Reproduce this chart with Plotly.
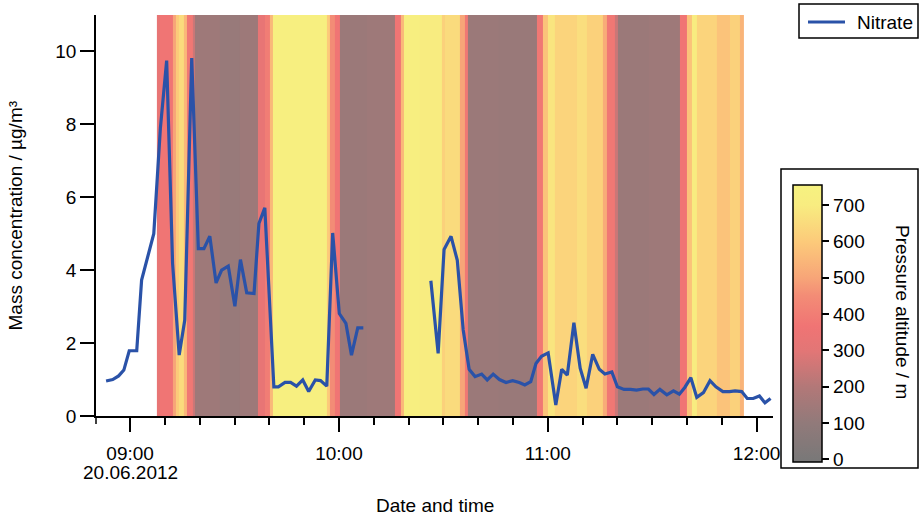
import plotly.graph_objects as go
import pandas as pd

BASE = pd.Timestamp("2012-06-20 09:00:00")

# Nitrate: minutes after 09:00 and mass concentration (µg/m³); None = gap
nitrate_min = [-6.9, -5.0, -3.3, -1.8, -0.25, 1.9, 3.3, 6.8, 8.7, 10.5, 12.2, 14.1, 15.7, 17.7,
               19.6, 21.2, 22.9, 24.7, 26.3, 28.2, 30.1, 31.7, 33.5, 35.6, 37.0, 38.7, 41.3,
               42.6, 44.5, 46.1, 47.8, 49.6, 51.3, 53.2, 54.7, 56.5, 58.2, 60.1, 62.0, 63.6,
               65.4, 67.0, 76.0,
               86.4, 88.5, 90.2, 92.2, 94.0, 95.7, 97.4, 99.1, 101.0, 102.6, 104.3, 106.1,
               108.0, 109.9, 111.8, 113.4, 115.1, 116.6, 118.2, 120.1, 122.3, 124.0, 125.6,
               127.5, 129.3, 131.0, 132.9, 134.8, 136.4, 138.4, 140.0, 141.9, 143.8, 145.5,
               147.3, 148.9, 150.5, 152.2, 154.2, 156.1, 157.8, 159.4, 161.1, 162.8, 164.7,
               166.6, 168.3, 170.3, 172.2, 173.8, 175.7, 177.3, 179.0, 180.8, 182.4, 184.0]
nitrate_val = [0.96, 1.0, 1.1, 1.26, 1.79, 1.79, 3.73, 5.0, 7.9, 9.75, 4.19, 1.67, 2.63, 9.82,
               4.59, 4.59, 4.93, 3.65, 4.0, 4.11, 3.01, 4.29, 3.38, 3.36, 5.28, 5.71, 0.80,
               0.80, 0.92, 0.92, 0.82, 0.99, 0.67, 0.99, 0.97, 0.82, 5.02, 2.81, 2.54, 1.67,
               2.42, 2.42, None,
               3.71, 1.72, 4.57, 4.93, 4.27, 2.36, 1.28, 1.08, 1.15, 0.99, 1.15, 1.0,
               0.92, 0.97, 0.92, 0.85, 0.94, 1.44, 1.64, 1.73, 0.30, 1.28, 1.12,
               2.56, 1.31, 0.76, 1.69, 1.28, 1.15, 1.21, 0.80, 0.73, 0.73, 0.71,
               0.74, 0.74, 0.59, 0.73, 0.58, 0.69, 0.60, 0.79, 1.05, 0.51, 0.64,
               0.97, 0.80, 0.67, 0.67, 0.69, 0.67, 0.48, 0.48, 0.55, 0.36, 0.48]

# Pressure altitude: segment edges (minutes after 09:00) and altitude (m) per segment
alt_edges_min = [7.7, 8.6, 12.3, 13.2, 14.0, 15.5, 16.3, 18.0, 18.6, 25.8, 31.6, 36.7, 38.7,
                 40.1, 41.0, 56.5, 57.4, 58.9, 60.3, 68.0, 76.1, 77.8, 78.7, 83.2, 89.6, 90.5,
                 94.8, 96.2, 97.1, 106.0, 116.9, 118.6, 120.1, 122.1, 128.4, 131.2, 135.9,
                 137.0, 139.3, 140.2, 149.0, 158.0, 160.0, 161.4, 162.9, 168.6, 172.4, 175.2,
                 176.2]
alt_values = [330, 370, 500, 600, 650, 550, 380, 250, 140, 120, 135, 330,
              400, 550, 730, 600, 450, 370, 130, 140, 370, 550, 730, 700, 620,
              650, 500, 380, 130, 125, 380, 580, 680, 630, 660, 620,
              520, 380, 250, 130, 140, 370, 580, 700, 630, 580, 620,
              540]

y_ticks = [0, 2, 4, 6, 8, 10]
cbar_ticks = [0, 100, 200, 300, 400, 500, 600, 700]
x_tick_times = ["09:00", "10:00", "11:00", "12:00"]
date_label = "20.06.2012"
series_name = "Nitrate"


def to_time(m):
    return BASE + pd.Timedelta(minutes=m)


nx = [to_time(m) for m in nitrate_min]
ax_edges = [to_time(m) for m in alt_edges_min]
tickvals = [pd.Timestamp("2012-06-20 " + t + ":00") for t in x_tick_times]

cmin, cmax = -7, 756
colorscale = [
    [0.0, "rgb(120,120,120)"],
    [0.14, "rgb(145,122,122)"],
    [0.27, "rgb(178,120,120)"],
    [0.40, "rgb(226,118,118)"],
    [0.49, "rgb(240,116,116)"],
    [0.60, "rgb(243,140,118)"],
    [0.665, "rgb(247,165,120)"],
    [0.795, "rgb(252,202,122)"],
    [0.927, "rgb(248,236,128)"],
    [1.0, "rgb(246,242,128)"],
]

FONT = "Liberation Sans, Arial, sans-serif"
FS = 19
LINE_COLOR = "#2a52a8"
PW, PH = 677, 401


def px_x(p):
    return (p - 96) / PW


def px_y(p):
    return (416 - p) / PH


fig = go.Figure()
fig.add_trace(go.Heatmap(
    x=ax_edges, y=[0, 11], z=[alt_values],
    zmin=cmin, zmax=cmax, colorscale=colorscale, zsmooth=False,
    showscale=True, hoverinfo="skip",
    colorbar=dict(
        x=px_x(793), xanchor="left", xref="paper",
        y=px_y(323.2), yanchor="middle", yref="paper",
        lenmode="pixels", len=277, thickness=29,
        outlinewidth=1.5, outlinecolor="black",
        ticks="outside", ticklen=7, tickwidth=1.5, tickcolor="black",
        tickvals=cbar_ticks, tickfont=dict(family=FONT, size=FS, color="black"),
        xpad=0, ypad=0,
    ),
))
fig.add_trace(go.Scatter(
    x=nx, y=nitrate_val, mode="lines", name=series_name,
    line=dict(color=LINE_COLOR, width=3.2), connectgaps=False, showlegend=False,
))

fig.update_layout(
    width=920, height=517,
    margin=dict(l=96, r=147, t=15, b=101, autoexpand=False),
    paper_bgcolor="white", plot_bgcolor="white",
    font=dict(family=FONT, size=FS, color="black"),
    showlegend=False,
    xaxis=dict(
        type="date",
        range=[to_time(-9.8), to_time(184.7)],
        tickvals=tickvals, ticktext=x_tick_times,
        ticks="outside", ticklen=14, tickwidth=1.5, tickcolor="black",
        showline=True, linecolor="black", linewidth=1.5,
        showgrid=False, zeroline=False,
        minor=dict(dtick=600000, ticks="outside", ticklen=7, tickwidth=1.5,
                   tickcolor="black", showgrid=False),
        tickfont=dict(family=FONT, size=FS),
        ticklabelstandoff=5,
    ),
    yaxis=dict(
        range=[0, 11], tickvals=y_ticks,
        ticks="outside", ticklen=14, tickwidth=1.5, tickcolor="black",
        showline=True, linecolor="black", linewidth=1.5,
        showgrid=False, zeroline=False,
        tickfont=dict(family=FONT, size=FS),
    ),
    annotations=[
        dict(text="Mass concentration / µg/m³", xref="paper", yref="paper",
             x=px_x(15), y=0.5, xanchor="center", yanchor="middle",
             textangle=-90, showarrow=False, font=dict(family=FONT, size=FS)),
        dict(text="Date and time", xref="paper", yref="paper",
             x=px_x(435), y=px_y(505), xanchor="center", yanchor="middle",
             showarrow=False, font=dict(family=FONT, size=FS)),
        dict(text=date_label, xref="x", yref="paper",
             x=tickvals[0], y=px_y(473), xanchor="center", yanchor="middle",
             showarrow=False, font=dict(family=FONT, size=FS)),
        dict(text="Pressure altitude / m", xref="paper", yref="paper",
             x=px_x(903), y=px_y(312), xanchor="center", yanchor="middle",
             textangle=90, showarrow=False, font=dict(family=FONT, size=FS)),
        dict(text=series_name, xref="paper", yref="paper",
             x=px_x(855), y=px_y(22), xanchor="left", yanchor="middle",
             showarrow=False, font=dict(family=FONT, size=FS)),
    ],
    shapes=[
        # colorbar frame
        dict(type="rect", xref="paper", yref="paper",
             x0=px_x(781), x1=px_x(918), y0=px_y(468), y1=px_y(169),
             line=dict(color="black", width=1.5), fillcolor="rgba(0,0,0,0)"),
        # legend frame and sample line
        dict(type="rect", xref="paper", yref="paper",
             x0=px_x(799), x1=px_x(918), y0=px_y(38), y1=px_y(4),
             line=dict(color="black", width=1.5), fillcolor="white"),
        dict(type="line", xref="paper", yref="paper",
             x0=px_x(808), x1=px_x(845), y0=px_y(22), y1=px_y(22),
             line=dict(color=LINE_COLOR, width=3.2)),
        # y-axis extension below the x axis
        dict(type="line", xref="paper", yref="paper",
             x0=0, x1=0, y0=0, y1=px_y(424),
             line=dict(color="black", width=1.5)),
    ],
)

fig.write_html("out.html")
